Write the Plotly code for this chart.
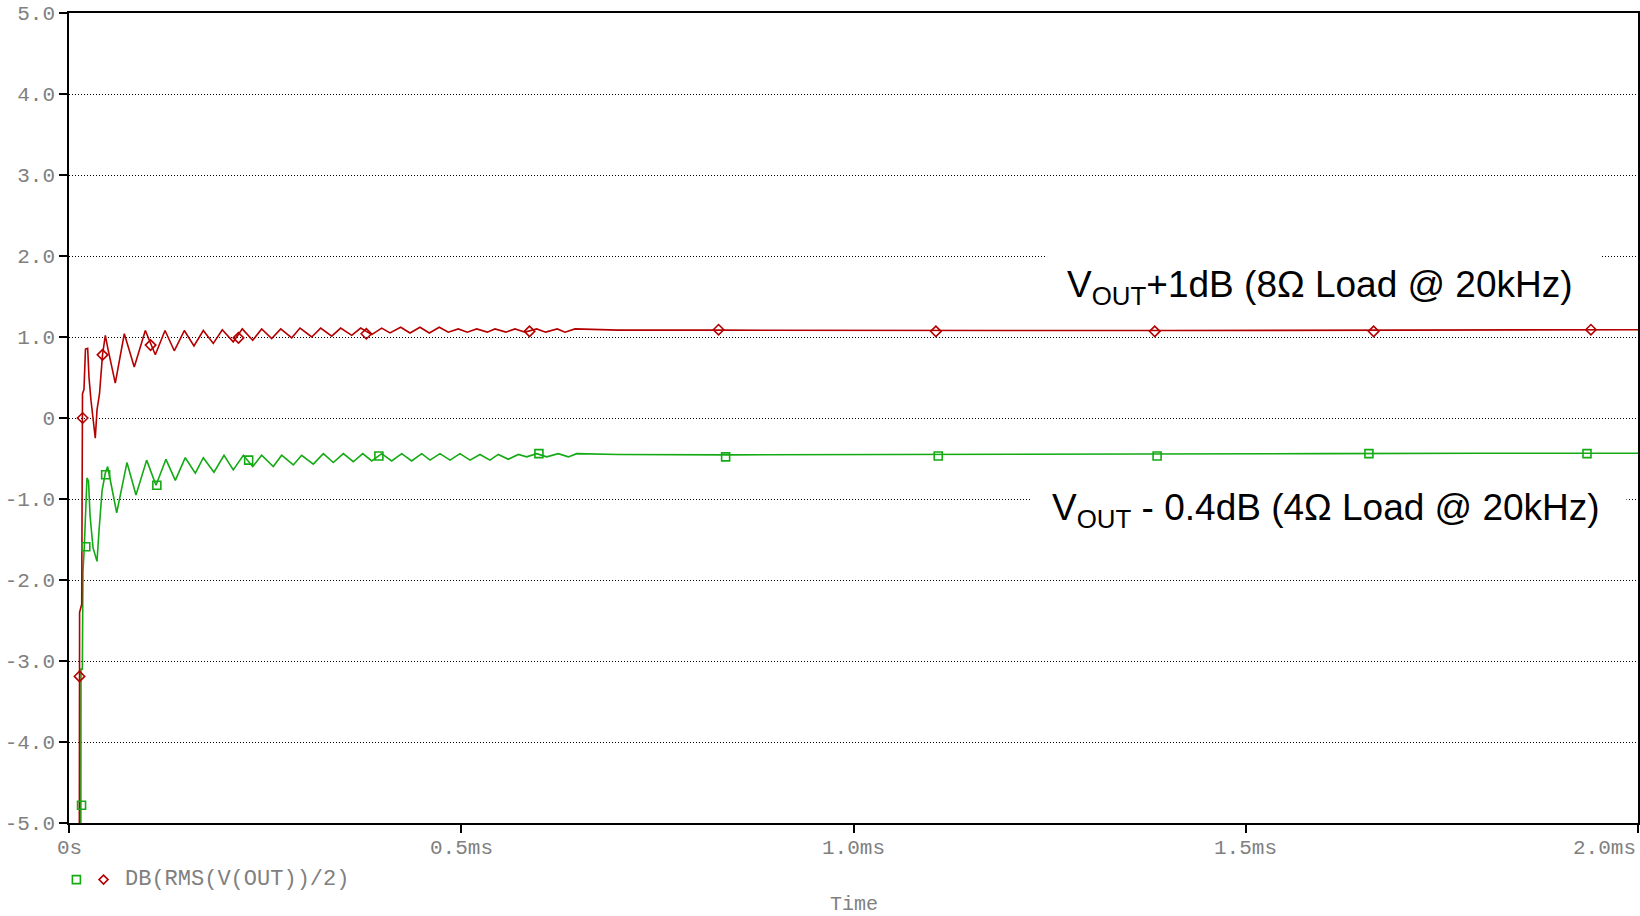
import plotly.graph_objects as go

# ---- data (time in ms, value in dB) ----
t_red = [0.0131, 0.0135, 0.0162, 0.0172, 0.0191, 0.0210, 0.0238, 0.0255, 0.0280, 0.0335,
         0.0357, 0.0389, 0.0427, 0.0463, 0.0497, 0.0590, 0.0705, 0.0832, 0.0973, 0.1100,
         0.1224, 0.1342, 0.1470, 0.1593, 0.1712, 0.1839, 0.1954, 0.2094, 0.2209, 0.2342,
         0.2456, 0.2584, 0.2699, 0.2839, 0.2945, 0.3094, 0.3208, 0.3349, 0.3463, 0.3604,
         0.3718, 0.3859, 0.3986, 0.4092, 0.4228, 0.4347, 0.4474, 0.4593, 0.4720, 0.4835,
         0.4962, 0.5077, 0.5197, 0.5332, 0.5430, 0.5570, 0.5685, 0.5813, 0.5962, 0.6076,
         0.6224, 0.6323, 0.6450, 0.70, 0.83, 1.00, 1.20, 1.40, 1.60, 1.80, 2.00]
v_red = [-6.00, -2.40, -2.30, 0.30, 0.35, 0.85, 0.86, 0.50, 0.22, -0.25,
         0.10, 0.30, 0.78, 1.02, 0.85, 0.43, 1.04, 0.63, 1.08, 0.78,
         1.08, 0.83, 1.08, 0.89, 1.08, 0.92, 1.09, 0.94, 1.10, 0.96,
         1.10, 0.98, 1.10, 0.99, 1.11, 1.00, 1.11, 1.01, 1.11, 1.02,
         1.11, 1.03, 1.11, 1.05, 1.12, 1.05, 1.12, 1.05, 1.12, 1.06,
         1.10, 1.06, 1.10, 1.06, 1.10, 1.06, 1.10, 1.06, 1.10, 1.06,
         1.10, 1.06, 1.10, 1.085, 1.085, 1.08, 1.08, 1.08, 1.085, 1.085, 1.09]

t_green = [0.0150, 0.0153, 0.0170, 0.0178, 0.0195, 0.0210, 0.0229, 0.0249, 0.0268, 0.0306,
           0.0357, 0.0382, 0.0421, 0.0463, 0.0493, 0.0523, 0.0608, 0.0739, 0.0854, 0.0990,
           0.1109, 0.1236, 0.1355, 0.1482, 0.1610, 0.1712, 0.1848, 0.1976, 0.2094, 0.2222,
           0.2342, 0.2456, 0.2604, 0.2711, 0.2859, 0.2966, 0.3114, 0.3242, 0.3369, 0.3497,
           0.3624, 0.3744, 0.3859, 0.3986, 0.4113, 0.4241, 0.4368, 0.4496, 0.4602, 0.4729,
           0.4857, 0.4984, 0.5112, 0.5239, 0.5366, 0.5472, 0.5600, 0.5727, 0.5834, 0.5962,
           0.6089, 0.6237, 0.6365, 0.6472, 0.70, 0.84, 1.00, 1.20, 1.40, 1.60, 1.80, 2.00]
v_green = [-6.00, -3.10, -3.10, -1.90, -1.59, -1.20, -0.74, -0.78, -1.20, -1.60,
           -1.77, -1.40, -0.90, -0.68, -0.60, -0.75, -1.17, -0.55, -0.95, -0.52,
           -0.83, -0.51, -0.77, -0.49, -0.68, -0.49, -0.67, -0.46, -0.64, -0.46,
           -0.60, -0.46, -0.60, -0.46, -0.58, -0.46, -0.57, -0.44, -0.55, -0.44,
           -0.54, -0.44, -0.53, -0.44, -0.53, -0.44, -0.53, -0.44, -0.52, -0.44,
           -0.52, -0.44, -0.52, -0.45, -0.52, -0.45, -0.51, -0.45, -0.48, -0.44,
           -0.48, -0.44, -0.48, -0.44, -0.45, -0.455, -0.45, -0.445, -0.445, -0.44, -0.435, -0.435]

t_red_mk = [0.0174, 0.0134, 0.0427, 0.104, 0.216, 0.379, 0.587, 0.828, 1.105, 1.384, 1.663, 1.940]
v_red_mk = [0.00, -3.19, 0.78, 0.90, 0.99, 1.04, 1.07, 1.09, 1.07, 1.07, 1.07, 1.09]
t_green_mk = [0.016, 0.0214, 0.0467, 0.112, 0.229, 0.395, 0.599, 0.837, 1.108, 1.387, 1.657, 1.935]
v_green_mk = [-4.78, -1.59, -0.70, -0.83, -0.52, -0.47, -0.44, -0.48, -0.47, -0.47, -0.44, -0.44]

y_ticks = [-5, -4, -3, -2, -1, 0, 1, 2, 3, 4, 5]
y_tick_text = ["-5.0", "-4.0", "-3.0", "-2.0", "-1.0", "0", "1.0", "2.0", "3.0", "4.0", "5.0"]
x_ticks = [0, 0.5, 1.0, 1.5, 2.0]
x_tick_text = ["0s", "0.5ms", "1.0ms", "1.5ms", "2.0ms"]
legend_label = "DB(RMS(V(OUT))/2)"
label_top = "V<sub>OUT</sub>+1dB (8Ω Load @ 20kHz)"
label_bottom = "V<sub>OUT</sub> - 0.4dB (4Ω Load @ 20kHz)"

RED = "#B40000"
GREEN = "#14AA14"
MONO = "Liberation Mono"
GRAY = "#808080"

fig = go.Figure()
fig.add_trace(go.Scatter(x=t_green, y=v_green, mode="lines",
                         line=dict(color=GREEN, width=1.6), showlegend=False))
fig.add_trace(go.Scatter(x=t_red, y=v_red, mode="lines",
                         line=dict(color=RED, width=1.6), showlegend=False))
fig.add_trace(go.Scatter(x=t_green_mk, y=v_green_mk, mode="markers",
                         marker=dict(symbol="square-open", size=8, color=GREEN,
                                     line=dict(width=1.6, color=GREEN)),
                         showlegend=False))
fig.add_trace(go.Scatter(x=t_red_mk, y=v_red_mk, mode="markers",
                         marker=dict(symbol="diamond-open", size=8, color=RED,
                                     line=dict(width=1.6, color=RED)),
                         showlegend=False))

# white patches that hide the grid behind the labels
fig.add_shape(type="rect", xref="x", yref="y", x0=1.2467, x1=1.9541, y0=1.6, y1=2.3,
              fillcolor="white", line=dict(width=0), layer="between")
fig.add_shape(type="rect", xref="x", yref="y", x0=1.2275, x1=1.9853, y0=-1.3, y1=-0.8,
              fillcolor="white", line=dict(width=0), layer="between")

# legend symbols
fig.add_shape(type="rect", xref="paper", yref="paper", xsizemode="pixel", ysizemode="pixel",
              xanchor=0.0047, yanchor=-0.0699, x0=-4, x1=4, y0=-4, y1=4,
              line=dict(color=GREEN, width=1.6), fillcolor="rgba(0,0,0,0)")
fig.add_shape(type="path", xref="paper", yref="paper", xsizemode="pixel", ysizemode="pixel",
              xanchor=0.0220, yanchor=-0.0699, path="M -4.5 0 L 0 4.5 L 4.5 0 L 0 -4.5 Z",
              line=dict(color=RED, width=1.6), fillcolor="rgba(0,0,0,0)")
fig.add_annotation(text=legend_label, xref="paper", yref="paper", x=0.0347, y=-0.0699,
                   xanchor="left", yanchor="middle", showarrow=False,
                   font=dict(family=MONO, size=22, color=GRAY))

# x tick labels
for xv, txt in zip(x_ticks, x_tick_text):
    anchor = "right" if xv == x_ticks[-1] else "center"
    fig.add_annotation(text=txt, xref="x", yref="paper", x=xv, y=-0.032,
                       xanchor=anchor, yanchor="middle", showarrow=False,
                       font=dict(family=MONO, size=21, color=GRAY))
fig.add_annotation(text="Time", xref="paper", yref="paper", x=0.5, y=-0.1,
                   xanchor="center", yanchor="middle", showarrow=False,
                   font=dict(family=MONO, size=20, color=GRAY))

# series labels
fig.add_annotation(text=label_top, xref="x", yref="y", x=1.5947, y=1.62,
                   xanchor="center", yanchor="middle", showarrow=False,
                   font=dict(family="Liberation Sans", size=37, color="black"))
fig.add_annotation(text=label_bottom, xref="x", yref="y", x=1.602, y=-1.14,
                   xanchor="center", yanchor="middle", showarrow=False,
                   font=dict(family="Liberation Sans", size=37, color="black"))

fig.update_xaxes(range=[0, 2.0], showgrid=False, zeroline=False, automargin=False,
                 tickvals=x_ticks, showticklabels=False,
                 ticks="outside", ticklen=8, tickwidth=1.5, tickcolor="black",
                 showline=True, linecolor="black", linewidth=2, mirror=True)
fig.update_yaxes(range=[-5, 5], tickvals=y_ticks, ticktext=y_tick_text, automargin=False,
                 showgrid=True, gridcolor="black", gridwidth=1, griddash="1px,2px",
                 zeroline=False,
                 ticks="outside", ticklen=8, tickwidth=2, tickcolor="black",
                 tickfont=dict(family=MONO, size=21, color=GRAY),
                 showline=True, linecolor="black", linewidth=1.5, mirror=True)

fig.update_layout(width=1640, height=916, plot_bgcolor="white", paper_bgcolor="white",
                  margin=dict(l=69, r=2, t=13, b=93), showlegend=False)

fig.write_html("out.html", config={"displayModeBar": False},
               post_script="document.body.style.margin='0';document.body.style.overflow='hidden';")
